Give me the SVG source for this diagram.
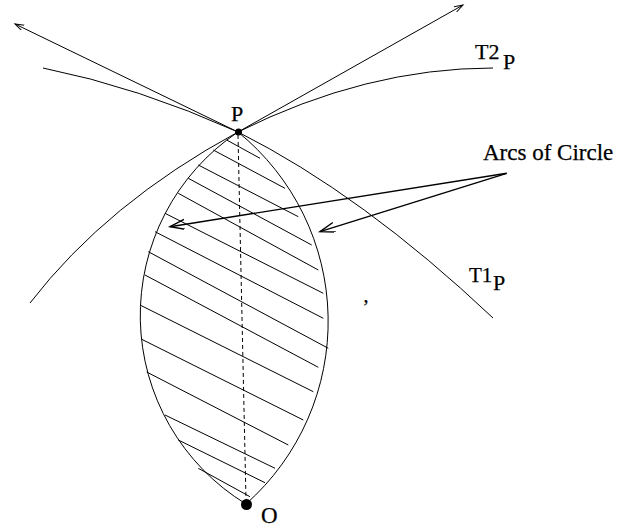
<svg xmlns="http://www.w3.org/2000/svg" width="639" height="527" viewBox="0 0 639 527">
<style>
.ln{fill:none;stroke:#000;stroke-width:1}
.hatch{fill:none;stroke:#000;stroke-width:1}
.ptr{fill:none;stroke:#000;stroke-width:1.4}
.dash{fill:none;stroke:#000;stroke-width:1;stroke-dasharray:4 3}
.t{font-family:"Liberation Serif","Times New Roman",serif;fill:#000;stroke:#000;stroke-width:0.25}
</style>
<defs>
<marker id="smallHead" markerUnits="userSpaceOnUse" markerWidth="12" markerHeight="8" refX="9" refY="3" orient="auto">
<path d="M0,0 L9,3 L0,6" fill="none" stroke="#000" stroke-width="1"/>
</marker>
<marker id="bigHead" markerUnits="userSpaceOnUse" markerWidth="18" markerHeight="12" refX="15" refY="5" orient="auto">
<path d="M0,0 L15,5 L0,10" fill="none" stroke="#000" stroke-width="1.4"/>
</marker>
</defs>

<g id="curves">
<path class="ln" d="M43,68 Q138,87 238,132"/>
<path class="ln" d="M238,132 Q366,68 493,68"/>
<path class="ln" d="M30,303 Q107,203 238,132"/>
<path class="ln" d="M238,132 Q363,195 493,318"/>
</g>

<g id="lens">
<path class="ln" d="M238,132 A221,221 0 0 0 246,504"/>
<path class="ln" d="M238,132 A244,244 0 0 1 246,504"/>
<g id="hatching" class="hatch">
<line x1="226.7" y1="140" x2="260" y2="158.3"/>
<line x1="213.3" y1="150" x2="285" y2="188.3"/>
<line x1="198.3" y1="165" x2="298.3" y2="216.7"/>
<line x1="188.3" y1="178.3" x2="311.7" y2="245"/>
<line x1="178.3" y1="193.3" x2="318.3" y2="270"/>
<line x1="165" y1="213.3" x2="323.3" y2="293.3"/>
<line x1="155" y1="231.7" x2="323.3" y2="318.3"/>
<line x1="148.3" y1="251.7" x2="328.3" y2="348.3"/>
<line x1="145" y1="275" x2="318.3" y2="367.3"/>
<line x1="140" y1="305" x2="313.3" y2="391.7"/>
<line x1="141.7" y1="339.3" x2="303.3" y2="420"/>
<line x1="146.7" y1="372" x2="288.3" y2="445"/>
<line x1="165" y1="415" x2="275" y2="468.3"/>
<line x1="178.3" y1="440" x2="265" y2="482.7"/>
<line x1="198.3" y1="468.3" x2="250" y2="496.7"/>
</g>
<line class="dash" x1="238" y1="135" x2="246" y2="500"/>
</g>

<g id="connectors">
<line class="ln" x1="238" y1="132" x2="15" y2="24" marker-end="url(#smallHead)"/>
<line class="ln" x1="238" y1="132" x2="463" y2="5" marker-end="url(#smallHead)"/>
<line class="ptr" x1="506.7" y1="173.3" x2="170" y2="226.7" marker-end="url(#bigHead)"/>
<line class="ptr" x1="506.7" y1="173.3" x2="320" y2="231.7" marker-end="url(#bigHead)"/>
</g>

<g id="node-P">
<circle cx="238.5" cy="132" r="3.5" fill="#000"/>
<text class="t" x="231" y="120.5" font-size="22">P</text>
</g>

<g id="node-O">
<circle cx="246.5" cy="504.5" r="5.5" fill="#000"/>
<text class="t" x="261" y="522.5" font-size="23">O</text>
</g>

<g id="label-T2P">
<text class="t" x="475" y="58.5" font-size="22">T2</text>
<text class="t" x="503" y="68.5" font-size="22">P</text>
</g>

<g id="label-T1P">
<text class="t" x="469" y="281.5" font-size="21">T1</text>
<text class="t" x="493" y="290" font-size="22">P</text>
</g>

<g id="label-arcs">
<text class="t" x="483" y="160" font-size="23">Arcs of Circle</text>
</g>

<text class="t" x="363.5" y="302" font-size="20">,</text>
</svg>
